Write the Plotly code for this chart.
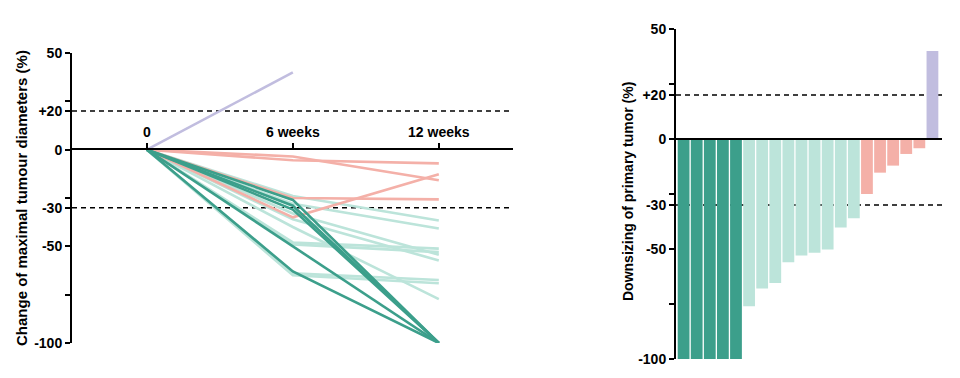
import plotly.graph_objects as go

# ---------------- data ----------------
weeks = [0, 6, 12]
week_labels = ["0", "6 weeks", "12 weeks"]

dark_lines = [
    [0, -26, -100],
    [0, -29, -100],
    [0, -31, -100],
    [0, -50, -100],
    [0, -63, -100],
]
light_lines = [
    [0, -24, -36.6],
    [0, -28, -40.8],
    [0, -48, -51.2],
    [0, -49, -53.0],
    [0, -33, -54.3],
    [0, -36, -57.3],
    [0, -64, -67.4],
    [0, -65, -69.1],
    [0, -40, -77.3],
]
pink_lines = [
    [0, -3.5, -15.8],
    [0, -5.5, -7.1],
    [0, -25, -25.7],
    [0, -35, -12.7],
]
purple_weeks = [0, 6]
purple_line = [0, 40]

bar_dark = [-100, -100, -100, -100, -100]
bar_light = [-76, -68, -65.5, -56, -53, -51.7, -50.2, -40.2, -36]
bar_pink = [-25, -15.3, -12.1, -6.8, -4.2]
bar_purple = [40]

y_tickvals = [50, 25, 20, 0, -25, -30, -50, -75, -100]
y_ticktext = ["50", "", "+20", "0", "", "-30", "-50", "", "-100"]
thresholds = [20, -30]

left_title = "Change of maximal tumour diameters (%)"
right_title = "Downsizing of primary tumor (%)"

# ---------------- style ----------------
DARK = "#3c9f8b"
LIGHT = "#bce4da"
PINK = "#f4b0a8"
PURPLE = "#c1bddf"
FONT = "Liberation Sans"

W, H = 960, 378
OFF = 8  # page body margin

def px_x(p):
    return (p - OFF) / W

def px_y(p):
    return 1 - (p - OFF) / H

fig = go.Figure()

def add_line(ys, color, xs=weeks):
    fig.add_trace(go.Scatter(x=xs, y=ys, mode="lines",
                             line=dict(color=color, width=2.6),
                             xaxis="x", yaxis="y", showlegend=False,
                             hoverinfo="skip"))

for ys in light_lines:
    add_line(ys, LIGHT)
for ys in pink_lines:
    add_line(ys, PINK)
add_line(purple_line, PURPLE, purple_weeks)
for ys in dark_lines:
    add_line(ys, DARK)

bar_vals = bar_dark + bar_light + bar_pink + bar_purple
bar_cols = ([DARK] * len(bar_dark) + [LIGHT] * len(bar_light)
            + [PINK] * len(bar_pink) + [PURPLE] * len(bar_purple))
bar_x = list(range(1, len(bar_vals) + 1))
fig.add_trace(go.Bar(x=bar_x, y=bar_vals, marker=dict(color=bar_cols, line=dict(width=0)),
                     xaxis="x2", yaxis="y2", showlegend=False, hoverinfo="skip"))

tickfont = dict(family=FONT, size=14, color="black", weight="bold")

left_y_dom = [px_y(343), px_y(53)]
right_y_dom = [px_y(359), px_y(29)]

fig.update_layout(
    width=W, height=H,
    margin=dict(l=0, r=0, t=0, b=0, pad=0, autoexpand=False),
    paper_bgcolor="white", plot_bgcolor="white",
    bargap=0.1,
    xaxis=dict(domain=[px_x(72), px_x(513)], range=[-3.08, 15.05],
               anchor="free", position=px_y(149), side="top",
               tickvals=weeks, ticktext=week_labels, ticks="outside",
               ticklen=5, tickwidth=2, tickcolor="black",
               showline=True, linewidth=2, linecolor="black",
               showgrid=False, zeroline=False, tickfont=tickfont, automargin=False),
    yaxis=dict(domain=left_y_dom, range=[-100, 50], anchor="x",
               tickvals=y_tickvals, ticktext=y_ticktext, ticks="outside",
               ticklen=5, tickwidth=2, tickcolor="black",
               showline=True, linewidth=2, linecolor="black",
               showgrid=False, zeroline=False, tickfont=tickfont, automargin=False),
    xaxis2=dict(domain=[px_x(676), px_x(942)], range=[0.42, 20.73],
                anchor="free", position=px_y(139),
                showticklabels=False, ticks="",
                showline=True, linewidth=2, linecolor="black",
                showgrid=False, zeroline=False, automargin=False),
    yaxis2=dict(domain=right_y_dom, range=[-100, 50], anchor="x2",
                tickvals=y_tickvals, ticktext=y_ticktext, ticks="outside",
                ticklen=5, tickwidth=2, tickcolor="black",
                showline=True, linewidth=2, linecolor="black",
                showgrid=False, zeroline=False, tickfont=tickfont, automargin=False),
)

for t in thresholds:
    fig.add_shape(type="line", xref="x domain", yref="y", x0=0, x1=1, y0=t, y1=t,
                  line=dict(color="black", width=1.5, dash="5px,4px"), layer="below")
    fig.add_shape(type="line", xref="x2 domain", yref="y2", x0=0, x1=1, y0=t, y1=t,
                  line=dict(color="black", width=1.5, dash="5px,4px"), layer="below")

fig.add_annotation(text=left_title, x=px_x(21), y=px_y(198),
                   xref="paper", yref="paper", textangle=-90, showarrow=False,
                   xanchor="center", yanchor="middle",
                   font=dict(family=FONT, size=15, color="black", weight="bold"))
fig.add_annotation(text=right_title, x=px_x(628), y=px_y(192),
                   xref="paper", yref="paper", textangle=-90, showarrow=False,
                   xanchor="center", yanchor="middle",
                   font=dict(family=FONT, size=14, color="black", weight="bold"))

fig.write_html("out.html")
